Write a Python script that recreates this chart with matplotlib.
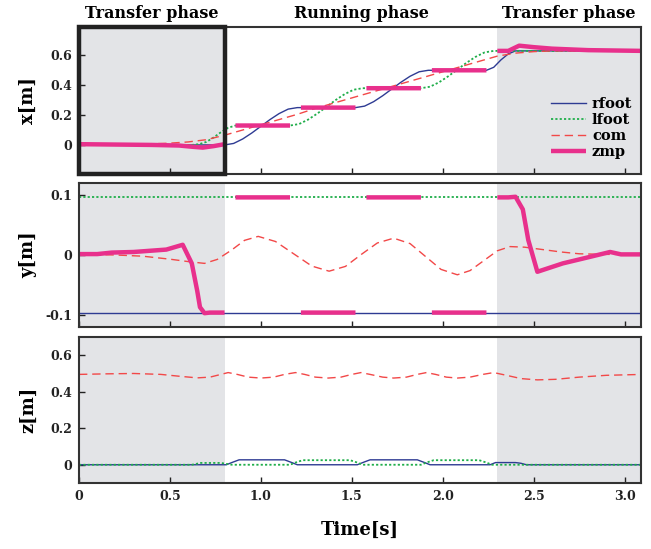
import matplotlib.pyplot as plt
from matplotlib.patches import Rectangle
import numpy as np

nan = np.nan

# ---------- x panel ----------
rfoot_x_t = [0, 0.80, 0.85, 0.90, 0.95, 1.00, 1.05, 1.10, 1.15, 1.20, 1.52, 1.57, 1.62, 1.67, 1.72,
             1.77, 1.82, 1.87, 1.92, 2.24, 2.28, 2.32, 2.36, 2.40, 3.1]
rfoot_x = [0, 0, 0.01, 0.04, 0.08, 0.125, 0.17, 0.21, 0.24, 0.25, 0.25, 0.26, 0.29, 0.33, 0.375,
           0.42, 0.46, 0.49, 0.50, 0.50, 0.52, 0.57, 0.61, 0.63, 0.63]

lfoot_x_t = [0, 0.62, 0.66, 0.70, 0.74, 0.78, 0.82, 0.86, 1.16, 1.21, 1.26, 1.31, 1.36, 1.41, 1.46,
             1.51, 1.56, 1.88, 1.93, 1.98, 2.03, 2.08, 2.13, 2.18, 2.23, 2.28, 3.1]
lfoot_x = [0, 0, 0.005, 0.02, 0.05, 0.085, 0.115, 0.13, 0.13, 0.14, 0.17, 0.21, 0.255, 0.30, 0.34,
           0.37, 0.38, 0.38, 0.39, 0.42, 0.46, 0.505, 0.55, 0.59, 0.62, 0.63, 0.63]

com_x_t = [0, 0.3, 0.5, 0.6, 0.7, 0.8, 0.9, 1.0, 1.1, 1.2, 1.3, 1.4, 1.5, 1.6, 1.7, 1.8, 1.9,
           2.0, 2.1, 2.2, 2.3, 2.4, 2.5, 2.6, 2.8, 3.1]
com_x = [0, 0.003, 0.012, 0.02, 0.035, 0.065, 0.1, 0.135, 0.17, 0.205, 0.245, 0.28, 0.315, 0.35,
         0.385, 0.42, 0.455, 0.49, 0.525, 0.56, 0.595, 0.615, 0.625, 0.63, 0.63, 0.63]

zmp_x_t = [0, 0.4, 0.55, 0.62, 0.68, 0.74, 0.8, nan,
           0.86, 1.16, nan, 1.22, 1.52, nan, 1.58, 1.88, nan, 1.94, 2.24, nan,
           2.30, 2.36, 2.42, 2.5, 2.6, 2.8, 3.1]
zmp_x = [0.005, 0.0, -0.004, -0.012, -0.018, -0.008, 0.005, nan,
         0.13, 0.13, nan, 0.25, 0.25, nan, 0.38, 0.38, nan, 0.50, 0.50, nan,
         0.63, 0.63, 0.665, 0.655, 0.645, 0.635, 0.63]

# ---------- y panel ----------
rfoot_y_t = [0, 3.1]
rfoot_y = [-0.096, -0.096]
lfoot_y_t = [0, 3.1]
lfoot_y = [0.096, 0.096]

com_y_t = [0, 0.2, 0.35, 0.5, 0.6, 0.69, 0.76, 0.84, 0.91, 0.985, 1.08, 1.18, 1.28, 1.375,
           1.465, 1.55, 1.64, 1.73, 1.82, 1.905, 1.99, 2.08, 2.15, 2.225, 2.30, 2.37, 2.45,
           2.55, 2.65, 2.75, 2.9, 3.1]
com_y = [0.001, 0.0, -0.002, -0.007, -0.011, -0.014, -0.0074, 0.0085, 0.0244, 0.031, 0.0225,
         0.002, -0.0185, -0.027, -0.019, 0.0005, 0.020, 0.028, 0.019, -0.0025, -0.024, -0.033,
         -0.026, -0.0095, 0.007, 0.014, 0.013, 0.009, 0.005, 0.002, 0.001, 0.001]

zmp_y_t = [0, 0.1, 0.18, 0.3, 0.48, 0.57, 0.62, 0.65, 0.665, 0.69, 0.72, 0.8, nan,
           0.86, 1.16, nan, 1.22, 1.52, nan, 1.58, 1.88, nan, 1.94, 2.24, nan,
           2.30, 2.36, 2.40, 2.44, 2.47, 2.52, 2.66, 2.77, 2.92, 2.98, 3.1]
zmp_y = [0.0015, 0.0015, 0.004, 0.005, 0.009, 0.017, -0.014, -0.06, -0.087, -0.097, -0.096,
         -0.096, nan,
         0.096, 0.096, nan, -0.096, -0.096, nan, 0.096, 0.096, nan, -0.096, -0.096, nan,
         0.096, 0.096, 0.097, 0.076, 0.025, -0.028, -0.014, -0.006, 0.005, 0.001, 0.001]

# ---------- z panel ----------
rfoot_z_t = [0, 0.81, 0.84, 0.88, 1.13, 1.17, 1.20, 1.53, 1.56, 1.60, 1.86, 1.90, 1.93, 2.26,
             2.29, 2.40, 2.43, 2.46, 3.1]
rfoot_z = [0, 0, 0.012, 0.027, 0.027, 0.012, 0, 0, 0.012, 0.027, 0.027, 0.012, 0, 0,
           0.012, 0.012, 0.008, 0, 0]

lfoot_z_t = [0, 0.62, 0.67, 0.78, 0.84, 1.16, 1.19, 1.23, 1.49, 1.53, 1.56, 1.88, 1.91, 1.95,
             2.20, 2.24, 2.27, 3.1]
lfoot_z = [0, 0, 0.01, 0.01, 0, 0, 0.012, 0.025, 0.025, 0.012, 0, 0, 0.012, 0.025,
           0.025, 0.012, 0, 0]

com_z_t = [0, 0.15, 0.3, 0.45, 0.55, 0.65, 0.72, 0.78, 0.82, 0.87, 0.93, 1.0, 1.07, 1.13, 1.19,
           1.24, 1.3, 1.37, 1.44, 1.5, 1.55, 1.6, 1.67, 1.73, 1.8, 1.86, 1.91, 1.96, 2.02, 2.08,
           2.15, 2.22, 2.28, 2.35, 2.43, 2.52, 2.62, 2.75, 2.9, 3.1]
com_z = [0.495, 0.498, 0.5, 0.495, 0.485, 0.476, 0.48, 0.495, 0.505, 0.495, 0.48, 0.475, 0.48,
         0.495, 0.505, 0.495, 0.48, 0.475, 0.48, 0.495, 0.505, 0.495, 0.48, 0.475, 0.48, 0.495,
         0.505, 0.495, 0.48, 0.475, 0.48, 0.495, 0.505, 0.49, 0.472, 0.465, 0.468, 0.48, 0.49,
         0.495]

phase_names = ["Transfer phase", "Running phase", "Transfer phase"]
phase_edges = [0, 0.8, 2.3, 3.09]

panels = [
    ("x[m]", (-0.195, 0.79), [0, 0.2, 0.4, 0.6], ["0", "0.2", "0.4", "0.6"],
     (rfoot_x_t, rfoot_x), (lfoot_x_t, lfoot_x), (com_x_t, com_x), (zmp_x_t, zmp_x)),
    ("y[m]", (-0.12, 0.12), [-0.1, 0, 0.1], ["-0.1", "0", "0.1"],
     (rfoot_y_t, rfoot_y), (lfoot_y_t, lfoot_y), (com_y_t, com_y), (zmp_y_t, zmp_y)),
    ("z[m]", (-0.1, 0.7), [0, 0.2, 0.4, 0.6], ["0", "0.2", "0.4", "0.6"],
     (rfoot_z_t, rfoot_z), (lfoot_z_t, lfoot_z), (com_z_t, com_z), None),
]

plt.rcParams["font.family"] = "DejaVu Serif"
plt.rcParams["font.weight"] = "bold"

c_rfoot = "#2e3b93"
c_lfoot = "#1fae4a"
c_com = "#f24848"
c_zmp = "#e8308c"
c_shade = "#e3e4e7"

fig = plt.figure(figsize=(6.51, 5.49), dpi=100)
boxes = [[0.1214, 0.683, 0.8633, 0.2678],
         [0.1214, 0.4044, 0.8633, 0.2623],
         [0.1214, 0.1202, 0.8633, 0.266]]

axes = []
for box, (lab, ylim, yt, ytl, rf, lf, cm, zp) in zip(boxes, panels):
    ax = fig.add_axes(box)
    ax.axvspan(phase_edges[0], phase_edges[1], color=c_shade, lw=0, zorder=0)
    ax.axvspan(phase_edges[2], phase_edges[3] + 0.1, color=c_shade, lw=0, zorder=0)
    ax.plot(rf[0], rf[1], color=c_rfoot, lw=1.0, label="rfoot")
    ax.plot(lf[0], lf[1], color=c_lfoot, lw=1.3, ls=(0, (1.2, 1.2)), label="lfoot")
    ax.plot(cm[0], cm[1], color=c_com, lw=1.0, ls=(0, (6, 3.5)), label="com")
    if zp is not None:
        ax.plot(zp[0], zp[1], color=c_zmp, lw=3.2, label="zmp", solid_capstyle="butt")
    ax.set_xlim(0, 3.09)
    ax.set_ylim(*ylim)
    ax.set_yticks(yt)
    ax.set_yticklabels(ytl, fontsize=9, fontweight="bold")
    ax.set_xticks([0, 0.5, 1.0, 1.5, 2.0, 2.5, 3.0])
    ax.tick_params(direction="in", length=4, width=1, colors="#222222", pad=5)
    ax.set_ylabel(lab, fontsize=13, fontweight="bold")
    ax.yaxis.set_label_coords(-0.075, 0.5)
    for s in ax.spines.values():
        s.set_color("#333333")
        s.set_linewidth(1.5)
    axes.append(ax)

ax1, ax2, ax3 = axes
ax1.set_xticklabels([])
ax2.set_xticklabels([])
ax3.set_xticklabels(["0", "0.5", "1.0", "1.5", "2.0", "2.5", "3.0"], fontsize=9,
                    fontweight="bold")

ax1.legend(loc="lower right", bbox_to_anchor=(1.0, 0.04), frameon=False, fontsize=10.5,
           handlelength=2.4, labelspacing=0.15, handletextpad=0.4, borderaxespad=0.2)

ax1.add_patch(Rectangle((0, 0), 0.8, 1, transform=ax1.get_xaxis_transform(),
                        fill=False, ec="#222222", lw=3.2, clip_on=False, zorder=5))

for name, a, b in zip(phase_names, phase_edges[:-1], phase_edges[1:]):
    ax1.text((a + b) / 2, 1.095, name, transform=ax1.get_xaxis_transform(),
             ha="center", va="center", fontsize=11.5, fontweight="bold")

fig.text(360 / 651, 1 - 530 / 549, "Time[s]", ha="center", va="center", fontsize=13,
         fontweight="bold")

fig.savefig("out.png", dpi=100)
